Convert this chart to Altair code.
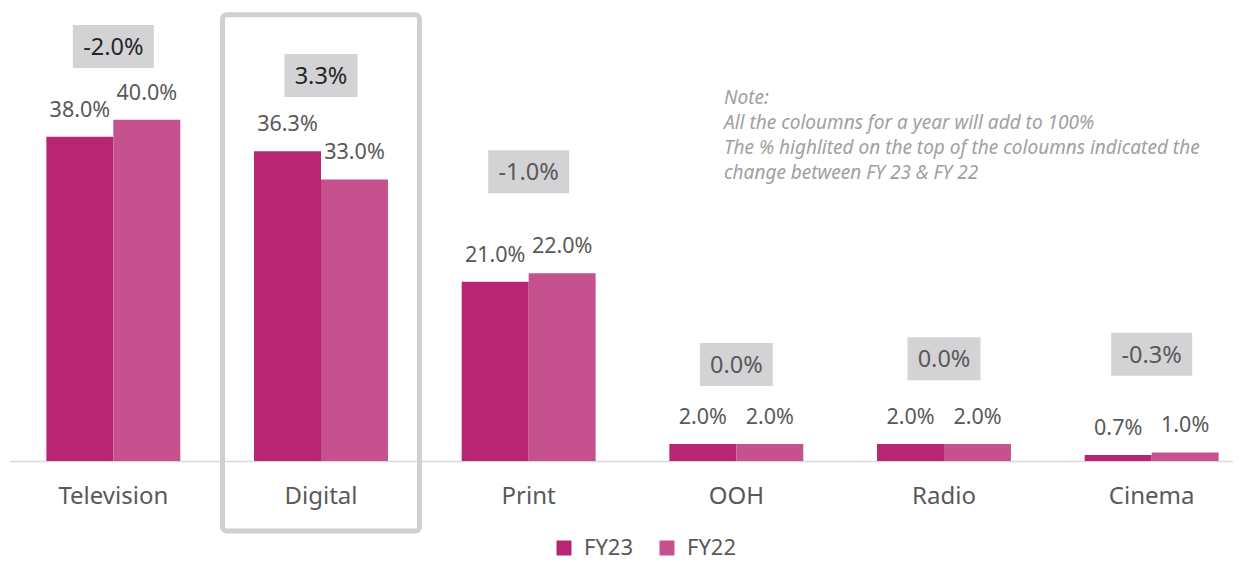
import altair as alt
import pandas as pd

# ---- data ----
categories = ["Television", "Digital", "Print", "OOH", "Radio", "Cinema"]
series = ["FY23", "FY22"]
fy23 = [38.0, 36.3, 21.0, 2.0, 2.0, 0.7]
fy22 = [40.0, 33.0, 22.0, 2.0, 2.0, 1.0]
change_labels = ["-2.0%", "3.3%", "-1.0%", "0.0%", "0.0%", "-0.3%"]
change_level = [48.6, 45.2, 33.9, 11.3, 12.0, 12.5]   # height (in %) of the change boxes
highlight_category = "Digital"
note_lines = [
    "Note:",
    "All the coloumns for a year will add to 100%",
    "The % highlited on the top of the coloumns indicated the",
    "change between FY 23 & FY 22",
]

# ---- tables ----
rows = []
for c, a, b in zip(categories, fy23, fy22):
    rows.append({"category": c, "series": "FY23", "value": a, "label": f"{a:.1f}%"})
    rows.append({"category": c, "series": "FY22", "value": b, "label": f"{b:.1f}%"})
bars_df = pd.DataFrame(rows)

half_box = 2.52  # half box height in % units
chg_df = pd.DataFrame({
    "category": categories,
    "label": change_labels,
    "value": change_level,
    "lo": [v - half_box for v in change_level],
    "hi": [v + half_box for v in change_level],
    "neg": [l.startswith("-") for l in change_labels],
})
frame_df = pd.DataFrame({"category": [highlight_category], "value": [52.3], "bottom": [-8.2]})

C23, C22 = "#B82572", "#C5528E"
FONT = "Noto Sans"
ydom = alt.Scale(domain=[0, 53.1], nice=False, zero=True)

x_enc = alt.X(
    "category:N",
    sort=categories,
    scale=alt.Scale(range=[1.5, 1247.5], paddingInner=0.355, paddingOuter=0.1775),
    axis=alt.Axis(
        title=None, ticks=False, tickSize=0, labelAngle=0,
        labelFontSize=24, labelColor="#595959", labelFont=FONT, labelPadding=23,
        domainColor="#D9D9D9", domainWidth=1.5, grid=False,
    ),
)
xoff = alt.XOffset("series:N", sort=series, scale=alt.Scale(paddingInner=0, paddingOuter=0))

frame = alt.Chart(frame_df).mark_bar(
    width=197, fillOpacity=0, stroke="#D0D0D0", strokeWidth=5, cornerRadius=4
).encode(
    x=x_enc,
    y=alt.Y("value:Q", scale=ydom, axis=None),
    y2="bottom:Q",
)

bars = alt.Chart(bars_df).mark_bar().encode(
    x=x_enc,
    xOffset=xoff,
    y=alt.Y("value:Q", scale=ydom, axis=None),
    color=alt.Color(
        "series:N",
        sort=series,
        scale=alt.Scale(domain=series, range=[C23, C22]),
        legend=alt.Legend(
            title=None, orient="none", legendX=545, legendY=529, direction="horizontal",
            symbolType="square", symbolSize=225, symbolStrokeWidth=0,
            labelFontSize=22, labelColor="#595959", labelFont=FONT,
            columnPadding=22, labelOffset=9, padding=0,
        ),
    ),
)

values = alt.Chart(bars_df).mark_text(
    baseline="alphabetic", dy=-20, fontSize=21.5, font=FONT, color="#595959"
).encode(
    x=x_enc,
    xOffset=xoff,
    y=alt.Y("value:Q", scale=ydom, axis=None),
    text="label:N",
)

box_neg = alt.Chart(chg_df).transform_filter("datum.neg").mark_bar(
    width=81, color="#D3D3D5"
).encode(
    x=x_enc, y=alt.Y("lo:Q", scale=ydom, axis=None), y2="hi:Q"
)
box_pos = alt.Chart(chg_df).transform_filter("!datum.neg").mark_bar(
    width=73, color="#D3D3D5"
).encode(
    x=x_enc, y=alt.Y("lo:Q", scale=ydom, axis=None), y2="hi:Q"
)

chg_text = alt.Chart(chg_df).mark_text(
    baseline="alphabetic", dy=8.5, fontSize=23.5, font=FONT
).encode(
    x=x_enc,
    y=alt.Y("value:Q", scale=ydom, axis=None),
    text="label:N",
    color=alt.condition(
        alt.FieldOneOfPredicate(field="category", oneOf=["Television", "Digital"]),
        alt.value("#262626"),
        alt.value("#595959"),
    ),
)

note = alt.Chart(alt.Data(values=[{}])).mark_text(
    text=note_lines, align="left", baseline="alphabetic", lineHeight=25,
    fontStyle="italic", fontSize=19, font=FONT, color="#A0A0A0",
).encode(x=alt.value(716), y=alt.value(96))

chart = alt.layer(frame, bars, values, box_neg, box_pos, chg_text, note).properties(
    width=1225,
    height=453,
    padding={"left": 0, "top": 0, "right": 0, "bottom": 100},
    autosize=alt.AutoSizeParams(type="none"),
    view=alt.ViewBackground(stroke="transparent", strokeWidth=0, fill="white"),
).configure_view(stroke="transparent", strokeWidth=0).configure(font=FONT, background="white")

chart.save("out.html", embed_options={"renderer": "svg", "actions": False})
